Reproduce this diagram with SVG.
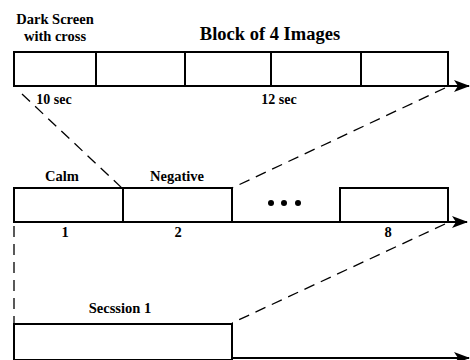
<svg xmlns="http://www.w3.org/2000/svg" width="470" height="360" viewBox="0 0 470 360">
<defs>
<style>
text{font-family:"Liberation Serif","Times New Roman",serif;font-weight:700;fill:#000;text-anchor:middle}
.t{font-size:14.5px}
.s{font-size:14px}
.h{font-size:18.5px}
.box{fill:#fff;stroke:#000;stroke-width:2}
.ax{stroke:#000;stroke-width:2;fill:none}
.d{stroke:#000;stroke-width:1.3;stroke-dasharray:11,7;fill:none}
</style>
<marker id="ah" markerWidth="16" markerHeight="14" refX="15" refY="7" orient="auto" markerUnits="userSpaceOnUse" viewBox="0 0 16 14">
<path d="M0,1 L16,7 L0,13 L4,7 Z" fill="#000"/>
</marker>
</defs>
<rect width="470" height="360" fill="#fff"/>
<g id="connectors">
<line class="ax" x1="14" y1="86" x2="469" y2="86" marker-end="url(#ah)"/>
<line class="ax" x1="14" y1="222" x2="467" y2="222" marker-end="url(#ah)"/>
<line class="ax" x1="14" y1="358" x2="469" y2="358" marker-end="url(#ah)"/>
<line class="d" x1="22" y1="94" x2="123" y2="189"/>
<line class="d" x1="445" y1="88" x2="232" y2="188"/>
<line class="d" x1="445" y1="224" x2="232" y2="323"/>
<line class="d" x1="14" y1="226" x2="14" y2="323"/>
</g>
<g id="block-row">
<rect class="box" x="14" y="52" width="434" height="34"/>
<line class="ax" x1="96" y1="52" x2="96" y2="86"/>
<line class="ax" x1="185" y1="52" x2="185" y2="86"/>
<line class="ax" x1="271" y1="52" x2="271" y2="86"/>
<line class="ax" x1="361" y1="52" x2="361" y2="86"/>
<text class="t" x="55" y="24">Dark Screen</text>
<text class="t" x="55" y="41">with cross</text>
<text class="h" x="270" y="40">Block of 4 Images</text>
<text class="s" x="54" y="104">10 sec</text>
<text class="s" x="279" y="104">12 sec</text>
</g>
<g id="session-row">
<rect class="box" x="14" y="188" width="218" height="34"/>
<line class="ax" x1="123" y1="188" x2="123" y2="222"/>
<rect class="box" x="340" y="188" width="108" height="34"/>
<circle cx="271" cy="203" r="3" fill="#000"/>
<circle cx="284" cy="203" r="3" fill="#000"/>
<circle cx="298" cy="203" r="3" fill="#000"/>
<text class="t" x="62" y="181">Calm</text>
<text class="t" x="177" y="181">Negative</text>
<text class="t" x="65" y="237">1</text>
<text class="t" x="178" y="237">2</text>
<text class="t" x="388" y="237">8</text>
</g>
<g id="session1">
<rect class="box" x="14" y="324" width="218" height="36"/>
<text class="t" x="120" y="313">Secssion 1</text>
</g>
</svg>
